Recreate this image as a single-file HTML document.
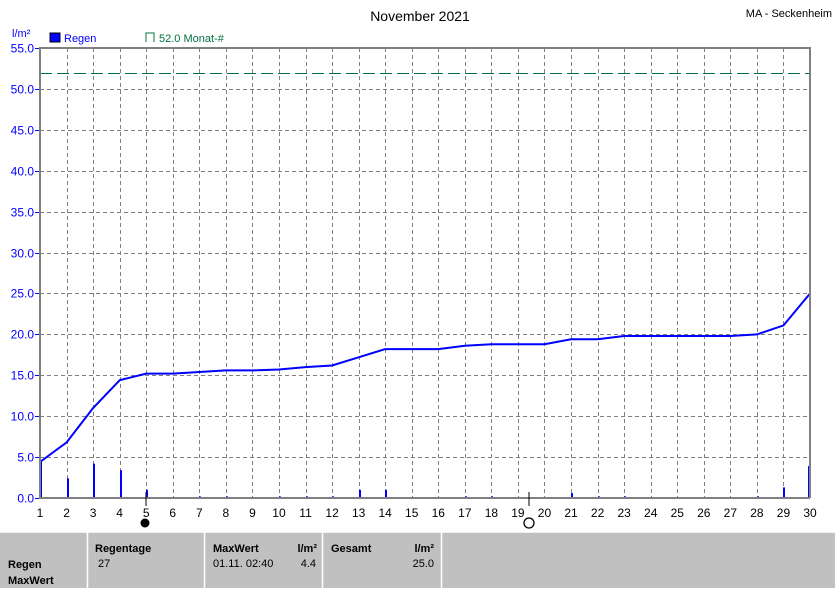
<!DOCTYPE html>
<html><head><meta charset="utf-8"><style>
body{margin:0;background:#fff;width:835px;height:588px;overflow:hidden;font-family:"Liberation Sans",sans-serif}
svg text{font-family:"Liberation Sans",sans-serif}
</style></head><body>
<svg id="s" width="835" height="588" xmlns="http://www.w3.org/2000/svg">
<text x="420" y="21" font-size="14" text-anchor="middle" fill="#000">November 2021</text>
<text x="832" y="17" font-size="11" text-anchor="end" fill="#000">MA - Seckenheim</text>
<text x="12" y="37" font-size="11" fill="#0000ff">l/m²</text>
<rect x="50" y="33" width="10" height="9" fill="#0000ff" stroke="#000" stroke-width="1"/>
<text x="64" y="42" font-size="11" fill="#0000ff">Regen</text>
<path d="M146 42 V33 H154 V42" fill="none" stroke="#007040" stroke-width="1"/>
<text x="159" y="42" font-size="11" fill="#007040">52.0 Monat-#</text>
<g id="grid"></g>
<line x1="40" y1="73.5" x2="810" y2="73.5" stroke="#007040" stroke-width="1" stroke-dasharray="12,5"/>
<g id="bars" fill="#0000ff"></g>
<polyline id="cum" fill="none" stroke="#0000ff" stroke-width="2"/>
<path d="M40 48 H810 V498 M40 47 V498 H810" fill="none" stroke="#808080" stroke-width="2"/>
<line x1="146" y1="492" x2="146" y2="506" stroke="#000"/>
<line x1="529" y1="492" x2="529" y2="506" stroke="#000"/>
<circle cx="145" cy="523" r="4.5" fill="#000"/>
<circle cx="529" cy="523" r="5" fill="none" stroke="#000" stroke-width="1.3"/>
<rect x="0" y="532" width="835" height="56" fill="#c0c0c0"/>
<g stroke="#fff" stroke-width="1.5"><line x1="87.5" y1="532" x2="87.5" y2="588"/><line x1="204.5" y1="532" x2="204.5" y2="588"/><line x1="322.5" y1="532" x2="322.5" y2="588"/><line x1="441.5" y1="532" x2="441.5" y2="588"/><line x1="0" y1="532" x2="835" y2="532"/></g>
<g font-size="11" font-weight="bold" fill="#000">
<text x="8" y="568">Regen</text><text x="8" y="584">MaxWert</text>
<text x="95" y="552">Regentage</text>
<text x="213" y="552">MaxWert</text><text x="317" y="552" text-anchor="end">l/m²</text>
<text x="331" y="552">Gesamt</text><text x="434" y="552" text-anchor="end">l/m²</text>
</g>
<g font-size="11" fill="#000">
<text x="98" y="567">27</text>
<text x="213" y="567">01.11.  02:40</text><text x="316" y="567" text-anchor="end">4.4</text>
<text x="434" y="567" text-anchor="end">25.0</text>
</g>
</svg>
<script>
var ns="http://www.w3.org/2000/svg",s=document.getElementById('s'),g=document.getElementById('grid');
function X(d){return 40+(d-1)*26.552}function Y(v){return 498-v*8.1818}
function el(t,a,p){var e=document.createElementNS(ns,t);for(var k in a)e.setAttribute(k,a[k]);(p||g).appendChild(e);return e}
for(var d=1;d<=30;d++){var x=Math.round(X(d))+0.5;if(d>1&&d<30)el('line',{x1:x,y1:48,x2:x,y2:498,stroke:'#808080','stroke-dasharray':'4,3'});
var t=el('text',{x:X(d),y:517,'font-size':12,'text-anchor':'middle',fill:'#000'});t.textContent=d;}
for(var v=0;v<=55;v+=5){var y=Math.round(Y(v))+0.5;if(v>0&&v<55)el('line',{x1:40,y1:y,x2:810,y2:y,stroke:'#808080','stroke-dasharray':'4,3'});
el('line',{x1:35,y1:y,x2:40,y2:y,stroke:'#0000ff'});
var t=el('text',{x:34,y:y+4,'font-size':12,'text-anchor':'end',fill:'#0000ff'});t.textContent=v.toFixed(1);}
var bars={1:4.4,2:2.4,3:4.2,4:3.4,5:1,7:.2,8:.2,10:.2,11:.2,12:.2,13:1,14:1,17:.2,18:.2,21:.6,22:.2,23:.2,28:.2,29:1.3,30:3.9};
var bg=document.getElementById('bars');
for(var k in bars){var x=Math.round(X(+k));if(k==30)x=808;el('rect',{x:x,y:Y(bars[k]),width:2,height:bars[k]*8.1818},bg);}
var c=[4.4,6.8,11,14.4,15.2,15.2,15.4,15.6,15.6,15.7,16.0,16.2,17.2,18.2,18.2,18.2,18.6,18.8,18.8,18.8,19.4,19.4,19.8,19.8,19.8,19.8,19.8,20.0,21.1,25.0];
var pts=X(1)+','+498+' ';c.forEach(function(v,i){pts+=X(i+1).toFixed(1)+','+Y(v).toFixed(1)+' '});
document.getElementById('cum').setAttribute('points',pts);
</script>
</body></html>
